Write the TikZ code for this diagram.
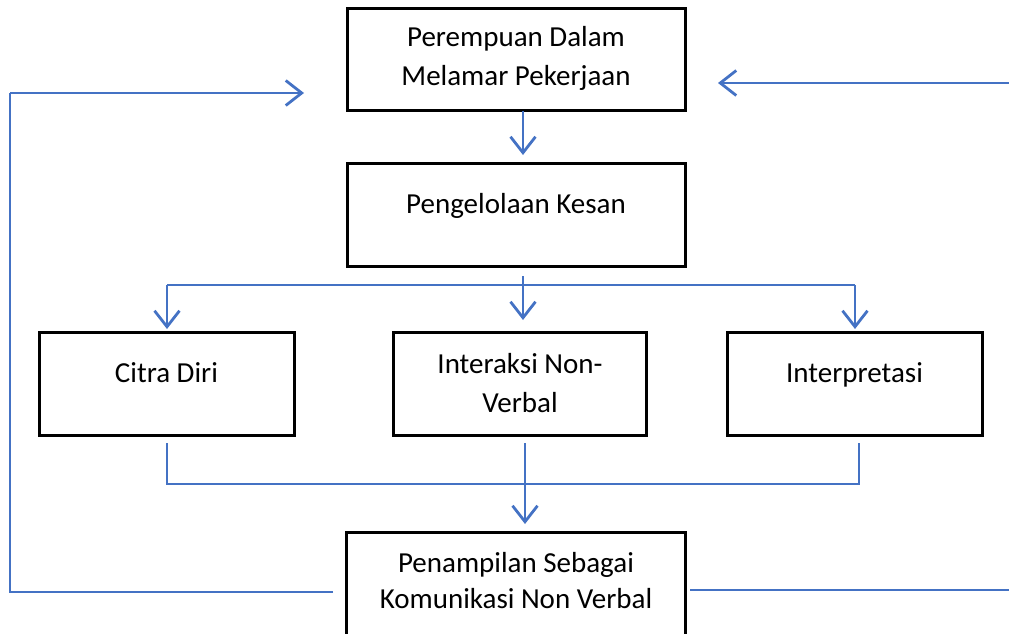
\documentclass[tikz,border=0pt]{standalone}
\usepackage{fontspec}
\setmainfont{Carlito}
\usetikzlibrary{arrows.meta}
\definecolor{lblue}{HTML}{4472C4}
\begin{document}
\begin{tikzpicture}[x=1pt,y=-1pt,
  box/.style={draw=black, line width=3pt, rectangle, inner sep=0pt},
  txt/.style={anchor=base, inner sep=0pt, font=\fontsize{29}{35}\selectfont},
  arr/.style={draw=lblue, line width=2.8pt, -{Straight Barb[length=16pt,width=25pt,line width=2.8pt]}},
  thin line/.style={draw=lblue, line width=1.7pt}]
\useasboundingbox (0,0) rectangle (1009,634);
% boxes
\node[box, minimum width=338pt, minimum height=101pt] (top) at (516,59.5) {};
\node[box, minimum width=338pt, minimum height=103pt] (peng) at (516,214.5) {};
\node[box, minimum width=255pt, minimum height=103pt] (citra) at (166.5,383.5) {};
\node[box, minimum width=253pt, minimum height=103pt] (inter) at (520,383.5) {};
\node[box, minimum width=255pt, minimum height=103pt] (interp) at (854.5,383.5) {};
\node[box, minimum width=339pt, minimum height=112pt] (bot) at (516,588) {};
% texts
\node[txt] (t1a) at (516,47) {Perempuan Dalam};
\node[txt] (t1b) at (516,85) {Melamar Pekerjaan};
\node[txt] (t2) at (516,213) {Pengelolaan Kesan};
\node[txt] (t3) at (166.5,382) {Citra Diri};
\node[txt] (t4a) at (520,373) {Interaksi Non-};
\node[txt] (t4b) at (520,412) {Verbal};
\node[txt] (t5) at (854.5,382) {Interpretasi};
\node[txt] (t6a) at (516,572) {Penampilan Sebagai};
\node[txt] (t6b) at (516,608) {Komunikasi Non Verbal};
% coordinates
\coordinate (a1s) at (523,111);
\coordinate (a1e) at (523,155);
\coordinate (m1) at (523,276);
\coordinate (m1e) at (523,320);
\coordinate (barL) at (167,285);
\coordinate (barR) at (855,285);
\coordinate (cL) at (167,329);
\coordinate (cR) at (855,329);
\coordinate (lL) at (167,443);
\coordinate (lLb) at (167,484);
\coordinate (lR) at (859,443);
\coordinate (lRb) at (859,484);
\coordinate (lM) at (525,443);
\coordinate (lMe) at (525,524);
\coordinate (fl1) at (333,592);
\coordinate (fl2) at (10,592);
\coordinate (fl3) at (10,93);
\coordinate (fl4) at (304,93);
\coordinate (fr1) at (690,590);
\coordinate (fr2) at (1009,590);
\coordinate (fr3) at (1009,83);
\coordinate (fr4) at (718,83);
% connectors
\draw[arr] (a1s) -- (a1e);
\draw[thin line] (barL) -- (barR);
\draw[arr] (m1) -- (m1e);
\draw[arr] (barL) -- (cL);
\draw[arr] (barR) -- (cR);
\draw[thin line] (lL) -- (lLb) -- (lRb) -- (lR);
\draw[arr] (lM) -- (lMe);
\draw[thin line] (fl1) -- (fl2) -- (fl3);
\draw[arr] (fl3) -- (fl4);
\draw[thin line] (fr1) -- (fr2);
\draw[arr] (fr3) -- (fr4);
\end{tikzpicture}
\end{document}
